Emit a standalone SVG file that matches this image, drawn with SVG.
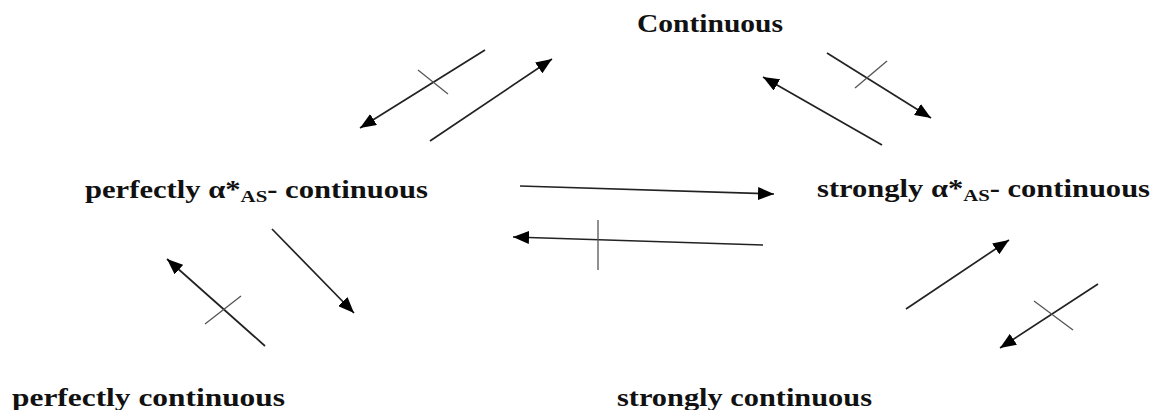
<svg xmlns="http://www.w3.org/2000/svg" width="1156" height="410" viewBox="0 0 1156 410">
<defs>
<style>
.lbl{font-family:"Liberation Serif","Times New Roman",serif;font-weight:bold;font-size:25px;fill:#111;}
.sub{font-size:17px;}
.conn{stroke:#222;stroke-width:1.7;fill:none;marker-end:url(#ah);}
.x{stroke:#555;stroke-width:1.3;fill:none;}
</style>
<marker id="ah" markerUnits="userSpaceOnUse" markerWidth="17" markerHeight="13" refX="16" refY="6.5" orient="auto">
<path d="M0,0 L16,6.5 L0,13 z" fill="#000"/>
</marker>
</defs>
<rect width="1156" height="410" fill="#fff"/>
<g id="n-continuous">
<text class="lbl" x="637" y="32" textLength="146" lengthAdjust="spacingAndGlyphs">Continuous</text>
</g>
<g id="n-perfectly-alpha">
<text class="lbl" x="85" y="198" textLength="343" lengthAdjust="spacingAndGlyphs">perfectly α*<tspan class="sub" dy="4">AS</tspan><tspan dy="-4">- continuous</tspan></text>
</g>
<g id="n-strongly-alpha">
<text class="lbl" x="817" y="197" textLength="333" lengthAdjust="spacingAndGlyphs">strongly α*<tspan class="sub" dy="4">AS</tspan><tspan dy="-4">- continuous</tspan></text>
</g>
<g id="n-perfectly">
<text class="lbl" x="12" y="406" textLength="273" lengthAdjust="spacingAndGlyphs">perfectly continuous</text>
</g>
<g id="n-strongly">
<text class="lbl" x="617" y="406" textLength="255" lengthAdjust="spacingAndGlyphs">strongly continuous</text>
</g>
<g id="connectors">
<line class="conn" x1="485" y1="50" x2="360" y2="128"/>
<line class="x" x1="418" y1="70" x2="448" y2="94"/>
<line class="conn" x1="430" y1="141" x2="552" y2="59"/>
<line class="conn" x1="882" y1="145" x2="763" y2="77"/>
<line class="conn" x1="827" y1="53" x2="931" y2="118"/>
<line class="x" x1="887" y1="61" x2="855" y2="88"/>
<line class="conn" x1="520" y1="186" x2="774" y2="194"/>
<line class="conn" x1="763" y1="245" x2="513" y2="237"/>
<line class="x" x1="598" y1="220" x2="598" y2="270"/>
<line class="conn" x1="265" y1="346" x2="167" y2="259"/>
<line class="x" x1="241" y1="296" x2="205" y2="324"/>
<line class="conn" x1="272" y1="229" x2="354" y2="313"/>
<line class="conn" x1="906" y1="309" x2="1009" y2="240"/>
<line class="conn" x1="1098" y1="284" x2="1000" y2="348"/>
<line class="x" x1="1034" y1="301" x2="1073" y2="330"/>
</g>
</svg>
